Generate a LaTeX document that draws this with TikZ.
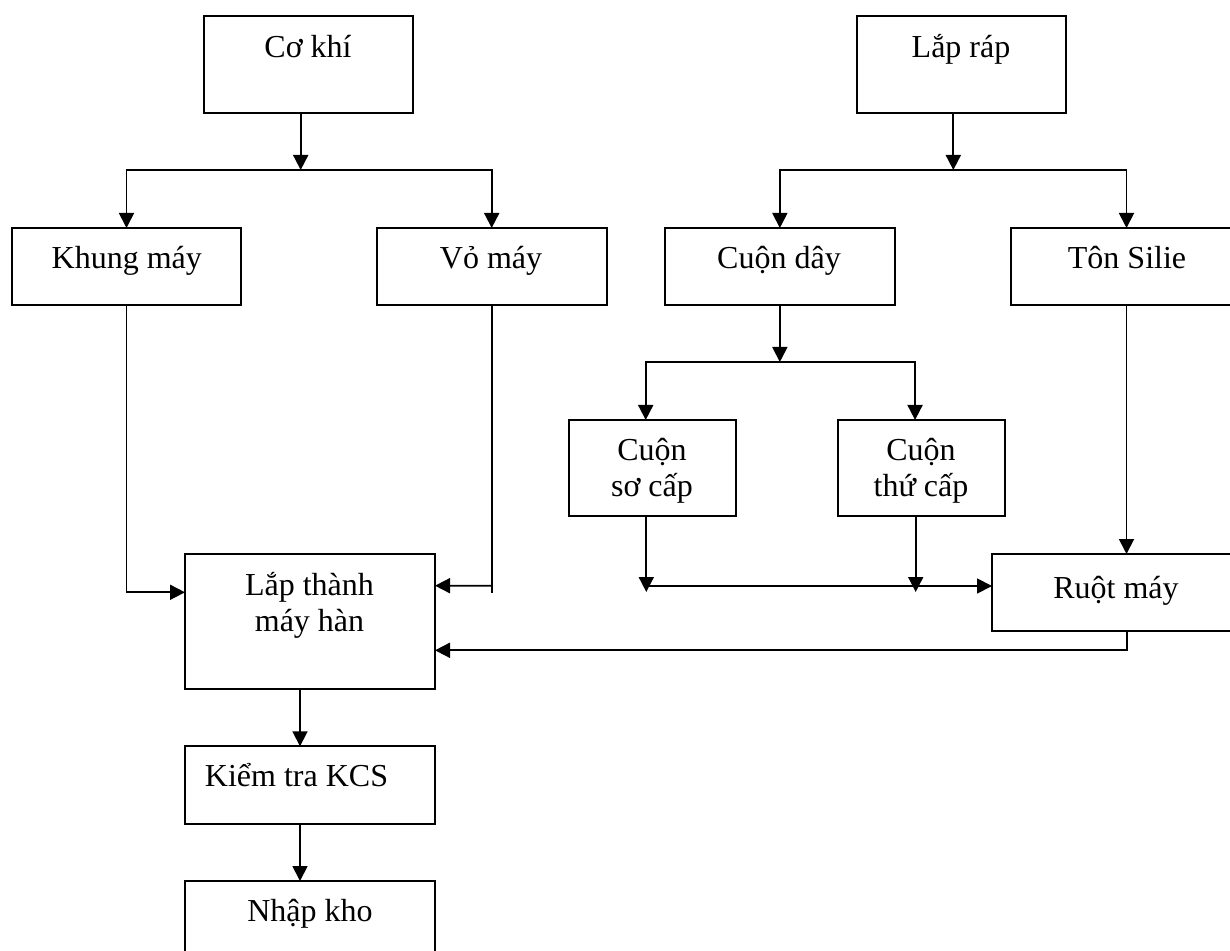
\documentclass[tikz,border=0pt]{standalone}
\usepackage{fontspec}
\setmainfont{Liberation Serif}
\usetikzlibrary{arrows.meta,calc}
\begin{document}
\begin{tikzpicture}[x=0.5pt,y=-0.5pt,
  box/.style n args={2}{draw, line width=1.1pt, minimum width=#1*0.5pt, minimum height=#2*0.5pt, inner sep=0pt, outer sep=0pt},
  lbl/.style={font=\fontsize{16}{18}\selectfont, inner sep=0pt, anchor=base},
  arr/.style={line width=0.9pt, -{Triangle[length=7.5pt,width=7.5pt]}},
  ln/.style={line width=0.9pt}]
\useasboundingbox (0,0) rectangle (1230,951);
\fill[white] (0,0) rectangle (1230,951);
\clip (0,0) rectangle (1230,951);

% boxes
\node[box={208.7}{96.7}] (cokhi) at (308.35,64.35) {};
\node[box={209.3}{96.7}] (laprap) at (961.35,64.35) {};
\node[box={229.6}{77}] (khung) at (126.5,266.5) {};
\node[box={230}{77}] (vo) at (491.7,266.5) {};
\node[box={229.7}{77}] (cuon) at (779.85,266.5) {};
\node[box={231}{77}] (ton) at (1126.5,266.5) {};
\node[box={167}{96}] (so) at (652.2,468) {};
\node[box={166.7}{96}] (thu) at (921.35,468) {};
\node[box={248}{77}] (ruot) at (1116,592.5) {};
\node[box={250}{134.7}] (lapthanh) at (310,621.35) {};
\node[box={250}{77.4}] (kcs) at (310,785) {};
\node[box={250}{77}] (nhap) at (310,919.5) {};

% labels
\node[lbl] (cokhi-t) at (308,57.3) {Cơ khí};
\node[lbl] (laprap-t) at (961,57.3) {Lắp ráp};
\node[lbl] (khung-t) at (126.8,268.5) {Khung máy};
\node[lbl] (vo-t) at (491,268.5) {Vỏ máy};
\node[lbl] (cuon-t) at (779,268.5) {Cuộn dây};
\node[lbl] (ton-t) at (1127,268.5) {Tôn Silie};
\node[lbl] (so-t1) at (652,460) {Cuộn};
\node[lbl] (so-t2) at (652,496.7) {sơ cấp};
\node[lbl] (thu-t1) at (921,460) {Cuộn};
\node[lbl] (thu-t2) at (921,496.7) {thứ cấp};
\node[lbl] (ruot-t) at (1116,598.3) {Ruột máy};
\node[lbl] (lapthanh-t1) at (309.5,595) {Lắp thành};
\node[lbl] (lapthanh-t2) at (309.5,631) {máy hàn};
\node[lbl] (kcs-t) at (296.5,786.7) {Kiểm tra KCS};
\node[lbl] (nhap-t) at (310,921) {Nhập kho};

% connectors
\coordinate (j1) at (300.7,170);
\draw[arr] (cokhi.south -| j1) -- (j1);
\draw[arr] (j1) -| (khung.north);
\draw[arr] (j1) -| (vo.north);
\coordinate (j2) at (953.3,170);
\draw[arr] (laprap.south -| j2) -- (j2);
\draw[arr] (j2) -| (cuon.north);
\draw[arr] (j2) -| (ton.north);
\coordinate (j3) at (779.85,362);
\draw[arr] (cuon.south) -- (j3);
\draw[arr] (j3) -| ($(so.north)+(-6.5,0)$);
\draw[arr] (j3) -| ($(thu.north)+(-6.3,0)$);
\coordinate (m1) at (646.3,592);
\coordinate (m2) at (915.7,592);
\draw[arr] (so.south -| m1) -- (m1);
\draw[arr] (thu.south -| m2) -- (m2);
\coordinate (h1) at (648,586);
\draw[arr] (h1) -- (ruot.west |- h1);
\draw[arr] (ton.south) -- (ton.south |- ruot.north);
\draw[arr] (khung.south) |- ($(lapthanh.north west)+(0,38.3)$);
\draw[ln] (vo.south) -- ++(0,287.7);
\draw[arr] ($(vo.south)+(0,280.7)$) -- ($(lapthanh.north east)+(0,31.7)$);
\draw[arr] ($(ruot.south)+(10.7,0)$) |- ($(lapthanh.north east)+(0,96.3)$);
\draw[arr] ($(lapthanh.south)+(-10,0)$) -- ($(kcs.north)+(-10,0)$);
\draw[arr] ($(kcs.south)+(-10,0)$) -- ($(nhap.north)+(-10,0)$);
\end{tikzpicture}
\end{document}
